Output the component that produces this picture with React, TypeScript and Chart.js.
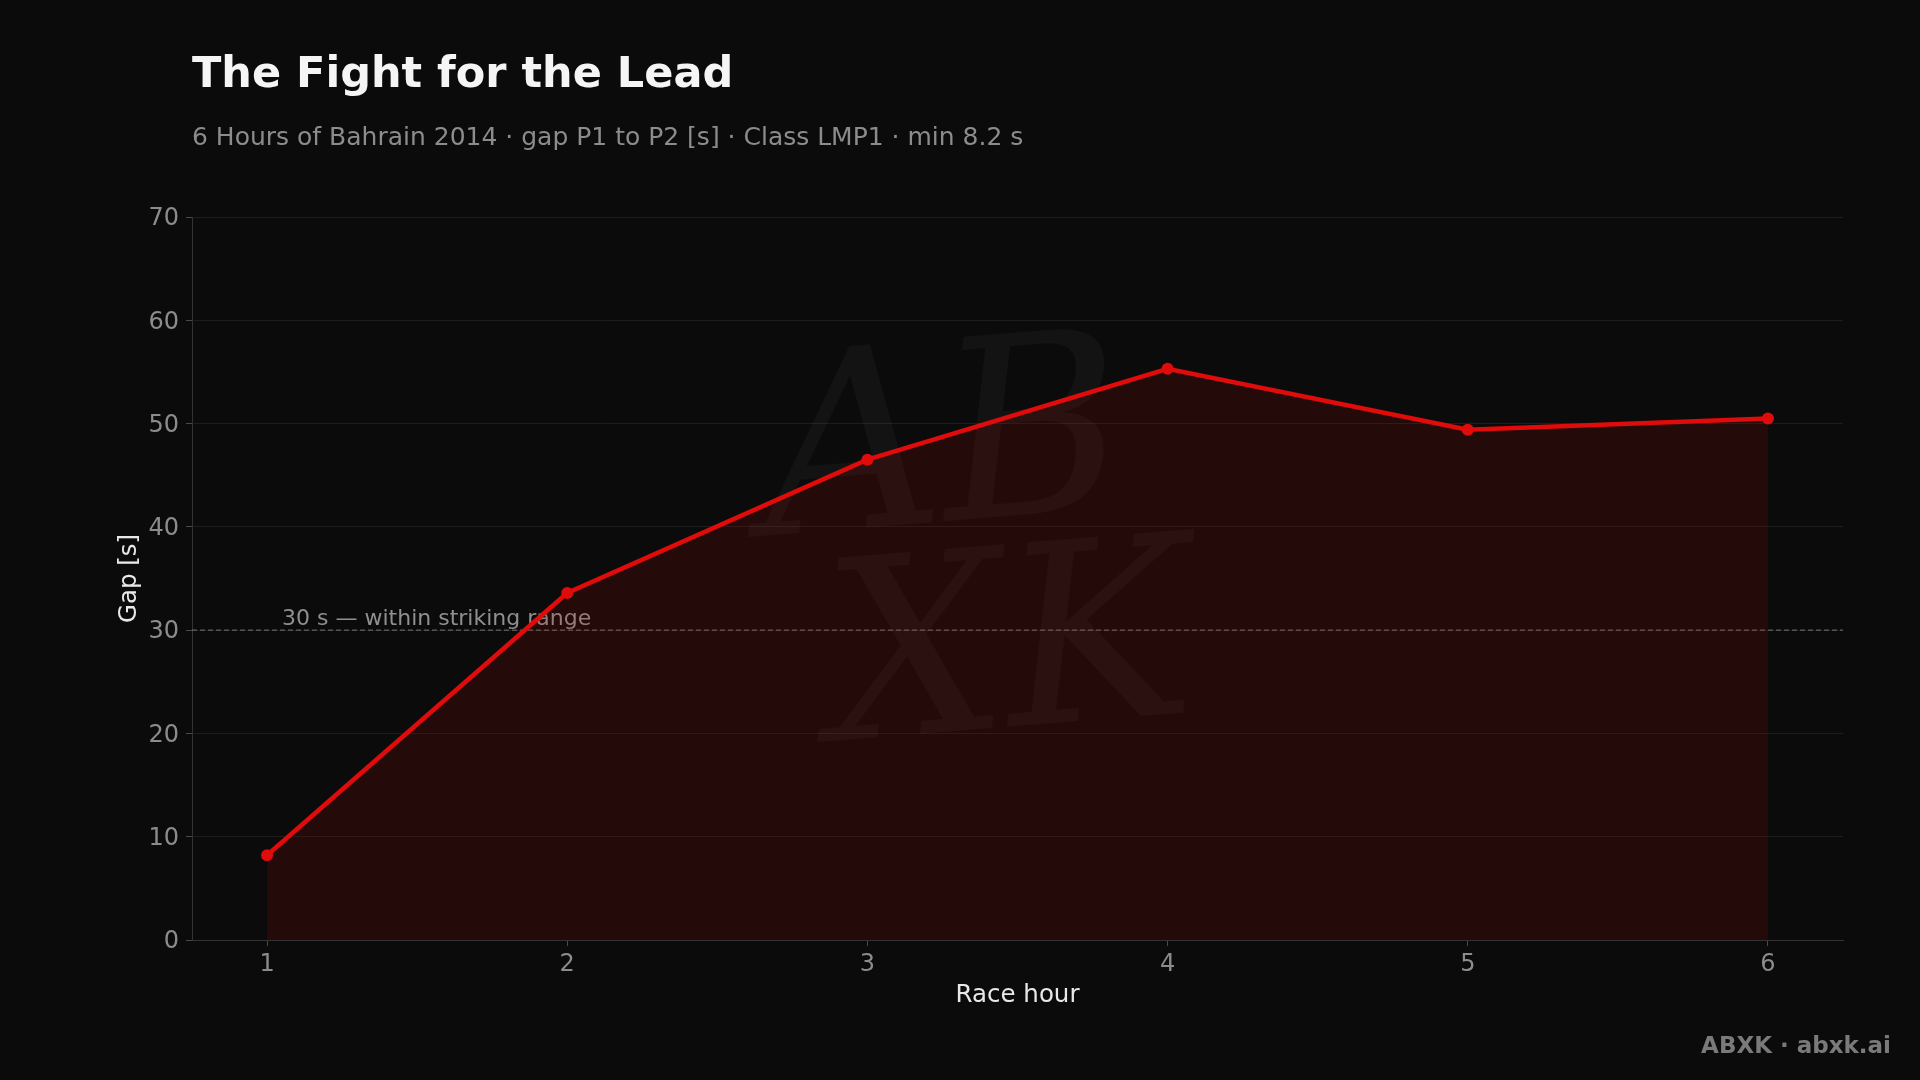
import React, { useEffect, useRef } from "react";
import { Chart, registerables } from "chart.js";

Chart.register(...registerables);

const raceHours = [1, 2, 3, 4, 5, 6];
const gapSeconds = [8.2, 33.6, 46.5, 55.3, 49.4, 50.5];
const xRange = [0.75, 6.25];
const yRange = [0, 70];
const yStep = 10;
const refValue = 30;
const refLabel = "30 s — within striking range";
const titleText = "The Fight for the Lead";
const subtitleText = "6 Hours of Bahrain 2014 · gap P1 to P2 [s] · Class LMP1 · min 8.2 s";
const xTitle = "Race hour";
const yTitle = "Gap [s]";
const footerText = "ABXK · abxk.ai";

const FONT = '"DejaVu Sans", "Liberation Sans", sans-serif';
const BG = "#0b0b0b";
const RED = "#e00b0b";

const overlay = {
  id: "overlay",
  beforeDraw(chart: any) {
    const ctx = chart.ctx;
    ctx.save();
    ctx.fillStyle = BG;
    ctx.fillRect(0, 0, chart.width, chart.height);
    ctx.restore();
  },
  beforeDatasetsDraw(chart: any) {
    const ctx = chart.ctx;
    const { left, right } = chart.chartArea;
    const xs = chart.scales.x;
    const ys = chart.scales.y;
    // watermark
    ctx.save();
    ctx.fillStyle = "rgba(255,255,255,0.035)";
    ctx.textAlign = "center";
    ctx.textBaseline = "alphabetic";
    ctx.font = `italic 250px "DejaVu Serif", serif`;
    ctx.translate(960, 540);
    ctx.rotate(-0.08);
    ctx.fillText("AB", -10, -20);
    ctx.fillText("XK", 40, 190);
    ctx.restore();
    // reference line
    const y = ys.getPixelForValue(refValue);
    ctx.save();
    ctx.strokeStyle = "rgba(160,160,160,0.55)";
    ctx.lineWidth = 1.2;
    ctx.setLineDash([5, 3]);
    ctx.beginPath();
    ctx.moveTo(left, y);
    ctx.lineTo(right, y);
    ctx.stroke();
    ctx.setLineDash([]);
    ctx.fillStyle = "#8f8f8f";
    ctx.font = `22px ${FONT}`;
    ctx.textAlign = "left";
    ctx.textBaseline = "alphabetic";
    ctx.fillText(refLabel, xs.getPixelForValue(1.05), y - 5);
    ctx.restore();
  },
  afterDraw(chart: any) {
    const ctx = chart.ctx;
    const { left, right, top, bottom } = chart.chartArea;
    ctx.save();
    ctx.textBaseline = "alphabetic";
    ctx.textAlign = "left";
    ctx.fillStyle = "#f5f5f5";
    ctx.font = `bold 43px ${FONT}`;
    ctx.fillText(titleText, left, 87);
    ctx.fillStyle = "#8c8c8c";
    ctx.font = `25px ${FONT}`;
    ctx.fillText(subtitleText, left, 145);
    // axis titles
    ctx.fillStyle = "#e8e8e8";
    ctx.font = `24.5px ${FONT}`;
    ctx.textAlign = "center";
    ctx.fillText(xTitle, (left + right) / 2, 1002);
    ctx.save();
    ctx.translate(136, (top + bottom) / 2);
    ctx.rotate(-Math.PI / 2);
    ctx.fillText(yTitle, 0, 0);
    ctx.restore();
    // footer
    ctx.textAlign = "right";
    ctx.fillStyle = "#7a7a7a";
    ctx.font = `bold 23px ${FONT}`;
    ctx.fillText(footerText, 1891, 1053);
    ctx.restore();
  },
};

export default function App() {
  const canvasRef = useRef<HTMLCanvasElement | null>(null);

  useEffect(() => {
    document.body.style.margin = "0";
    document.body.style.background = BG;
    const canvas = canvasRef.current;
    if (!canvas) return;
    const chart = new Chart(canvas, {
      type: "line",
      data: {
        datasets: [
          {
            data: raceHours.map((h, i) => ({ x: h, y: gapSeconds[i] })),
            borderColor: RED,
            backgroundColor: "rgba(200,10,10,0.14)",
            borderWidth: 4.5,
            pointRadius: 6,
            pointBackgroundColor: RED,
            pointBorderColor: RED,
            pointBorderWidth: 0,
            fill: "origin",
            tension: 0,
          },
        ],
      },
      options: {
        animation: false,
        responsive: false,
        devicePixelRatio: 1,
        events: [],
        layout: { padding: { top: 217, right: 77, bottom: 0, left: 0 } },
        plugins: {
          legend: { display: false },
          tooltip: { enabled: false },
          title: { display: false },
        },
        scales: {
          x: {
            type: "linear",
            min: xRange[0],
            max: xRange[1],
            afterFit(scale: any) {
              scale.height = 140;
            },
            ticks: {
              stepSize: 1,
              includeBounds: false,
              color: "#8c8c8c",
              font: { family: FONT, size: 24 },
              padding: 4,
              maxRotation: 0,
            },
            grid: {
              drawOnChartArea: false,
              color: "#3a3a3a",
              tickColor: "#4a4a4a",
              tickLength: 6,
            },
            border: { color: "#333333", width: 1 },
          },
          y: {
            type: "linear",
            min: yRange[0],
            max: yRange[1],
            afterFit(scale: any) {
              scale.width = 192;
            },
            ticks: {
              stepSize: yStep,
              color: "#8c8c8c",
              font: { family: FONT, size: 24 },
              padding: 7,
              labelOffset: 2,
            },
            grid: {
              color: "rgba(255,255,255,0.075)",
              tickColor: "#4a4a4a",
              tickLength: 6,
            },
            border: { color: "#333333", width: 1 },
          },
        },
      },
      plugins: [overlay],
    });
    return () => chart.destroy();
  }, []);

  return (
    <div style={{ position: "fixed", left: 0, top: 0, width: 1920, height: 1080, background: BG }}>
      <canvas ref={canvasRef} width={1920} height={1080} style={{ width: 1920, height: 1080, display: "block" }} />
    </div>
  );
}
